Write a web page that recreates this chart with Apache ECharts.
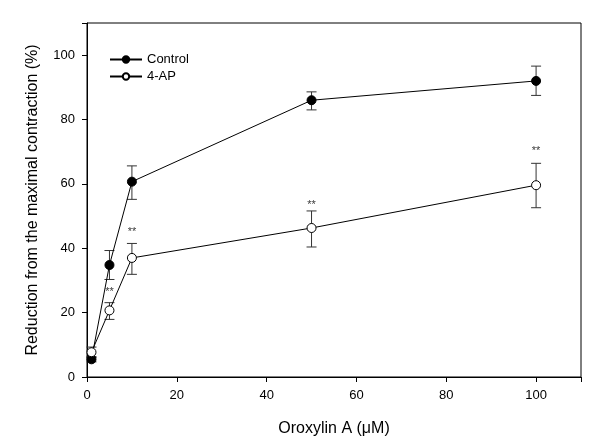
<!DOCTYPE html>
<html>
<head>
<meta charset="utf-8">
<script src="https://cdn.jsdelivr.net/npm/echarts@6/dist/echarts.min.js"></script>
<style>
  html, body { margin: 0; padding: 0; background: #fff; }
  #chart { width: 600px; height: 445px; }
</style>
</head>
<body>
<div id="chart"></div>
<script>
// Oroxylin A concentrations (uM)
const conc = [1, 5, 10, 50, 100]

// Control: mean and error bar ends
const controlMean = [5.5, 34.8, 60.7, 86.0, 92.0]
const controlHi = [6.3, 39.3, 65.6, 88.6, 96.6]
const controlLo = [4.7, 30.3, 55.2, 83.0, 87.5]

// 4-AP: mean and error bar ends
const apMean = [7.7, 20.7, 37.0, 46.3, 59.6]
const apHi = [9.3, 23.1, 41.5, 51.6, 66.4]
const apLo = [6.1, 17.9, 31.9, 40.4, 52.6]

// significance marks (** above 4-AP error bars)
const sigY = [null, 26.5, 45.1, 53.6, 70.3]

const FONT = 'Liberation Sans, Arial, sans-serif'

function errorData(mean, hi, lo) {
  return conc.map((x, i) => [x, lo[i], hi[i]])
}

function renderError(params, api) {
  const x = api.value(0)
  const lo = api.coord([x, api.value(1)])
  const hi = api.coord([x, api.value(2)])
  const half = 5
  const style = { stroke: '#333', lineWidth: 1, fill: null }
  return {
    type: 'group',
    children: [
      { type: 'line', shape: { x1: hi[0], y1: hi[1], x2: lo[0], y2: lo[1] }, style },
      { type: 'line', shape: { x1: hi[0] - half, y1: hi[1], x2: hi[0] + half, y2: hi[1] }, style },
      { type: 'line', shape: { x1: lo[0] - half, y1: lo[1], x2: lo[0] + half, y2: lo[1] }, style },
    ],
  }
}

const chart = echarts.init(document.getElementById('chart'), null, { renderer: 'canvas' })

const option = {
  animation: false,
  backgroundColor: '#fff',
  textStyle: { fontFamily: FONT },
  grid: {
    left: 87, right: 19, top: 23, bottom: 68,
    show: true, borderColor: '#000', borderWidth: 1,
  },
  legend: {
    data: ['Control', '4-AP'],
    orient: 'vertical',
    left: 104, top: 48,
    itemWidth: 32, itemHeight: 8, itemGap: 4,
    textStyle: { fontSize: 13, color: '#000', fontFamily: FONT },
  },
  xAxis: {
    type: 'value', min: 0, max: 110, interval: 20,
    name: 'Oroxylin A (\u03bcM)', nameLocation: 'middle', nameGap: 44,
    nameTextStyle: { fontSize: 16, color: '#000', fontFamily: FONT },
    axisLine: { onZero: false, lineStyle: { color: '#000' } },
    axisTick: { length: 5, lineStyle: { color: '#000' } },
    axisLabel: {
      margin: 12, fontSize: 13, color: '#000', fontFamily: FONT,
      formatter: (v) => (v > 100 ? '' : v),
    },
    splitLine: { show: false },
  },
  yAxis: {
    type: 'value', min: 0, max: 110, interval: 20,
    name: 'Reduction from the maximal contraction (%)', nameLocation: 'middle', nameGap: 46,
    nameTextStyle: { fontSize: 16, color: '#000', fontFamily: FONT },
    axisLine: { onZero: false, lineStyle: { color: '#000' } },
    axisTick: { length: 5, lineStyle: { color: '#000' } },
    axisLabel: {
      margin: 12, fontSize: 13, color: '#000', fontFamily: FONT,
      formatter: (v) => (v > 100 ? '' : v),
    },
    splitLine: { show: false },
  },
  series: [
    {
      type: 'custom',
      renderItem: renderError,
      data: errorData(controlMean, controlHi, controlLo),
      z: 1,
      silent: true,
    },
    {
      type: 'custom',
      renderItem: renderError,
      data: errorData(apMean, apHi, apLo),
      z: 1,
      silent: true,
    },
    {
      name: 'Control',
      type: 'line',
      data: conc.map((x, i) => [x, controlMean[i]]),
      symbol: 'circle',
      symbolSize: 9,
      lineStyle: { color: '#000', width: 1 },
      itemStyle: { color: '#000', borderColor: '#000', borderWidth: 1 },
      z: 3,
    },
    {
      name: '4-AP',
      type: 'line',
      data: conc.map((x, i) => [x, apMean[i]]),
      symbol: 'circle',
      symbolSize: 9,
      lineStyle: { color: '#000', width: 1 },
      itemStyle: { color: '#fff', borderColor: '#000', borderWidth: 1 },
      z: 3,
    },
    {
      type: 'scatter',
      data: conc.map((x, i) => [x, sigY[i]]).filter((d) => d[1] != null),
      symbolSize: 0,
      silent: true,
      label: {
        show: true, position: 'inside', formatter: '**',
        fontSize: 11, color: '#000', fontFamily: FONT,
      },
      z: 4,
    },
  ],
}

chart.setOption(option)
</script>
</body>
</html>
